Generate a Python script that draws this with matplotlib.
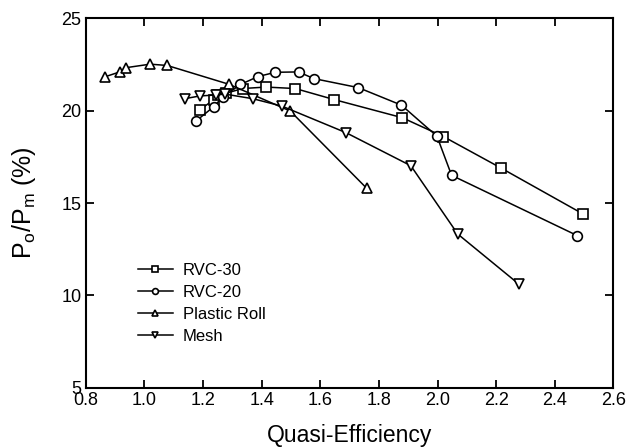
import matplotlib
matplotlib.use("Agg")
import matplotlib.pyplot as plt

plt.rcParams['font.family'] = ['Liberation Sans', 'DejaVu Sans']
plt.rcParams['mathtext.fontset'] = 'custom'
plt.rcParams['mathtext.rm'] = 'Liberation Sans'
plt.rcParams['mathtext.it'] = 'Liberation Sans'

rvc30_x = [1.189, 1.238, 1.250, 1.280, 1.335, 1.415, 1.515, 1.648, 1.880, 2.020, 2.216, 2.497]
rvc30_y = [20.05, 20.60, 20.85, 20.95, 21.20, 21.28, 21.20, 20.60, 19.62, 18.60, 16.90, 14.40]

rvc20_x = [1.178, 1.237, 1.268, 1.328, 1.388, 1.447, 1.526, 1.578, 1.730, 1.877, 1.998, 2.048, 2.476]
rvc20_y = [19.46, 20.22, 20.75, 21.42, 21.85, 22.08, 22.10, 21.74, 21.25, 20.30, 18.62, 16.50, 13.24]

plastic_x = [0.867, 0.918, 0.938, 1.020, 1.078, 1.289, 1.498, 1.759]
plastic_y = [21.84, 22.11, 22.33, 22.52, 22.45, 21.43, 19.98, 15.79]

mesh_x = [1.138, 1.190, 1.245, 1.275, 1.370, 1.469, 1.688, 1.909, 2.069, 2.278]
mesh_y = [20.65, 20.80, 20.85, 20.90, 20.65, 20.25, 18.81, 17.02, 13.32, 10.60]

labels = ['RVC-30', 'RVC-20', 'Plastic Roll', 'Mesh']
markers = ['s', 'o', '^', 'v']

xticks = [0.8, 1.0, 1.2, 1.4, 1.6, 1.8, 2.0, 2.2, 2.4, 2.6]
yticks = [5, 10, 15, 20, 25]

fig = plt.figure(figsize=(6.36, 4.48), dpi=100)
ax = fig.add_axes([0.1346, 0.1346, 0.9646 - 0.1346, 0.959 - 0.1346])

series = [(rvc30_x, rvc30_y), (rvc20_x, rvc20_y), (plastic_x, plastic_y), (mesh_x, mesh_y)]
for (xs, ys), lab, mk in zip(series, labels, markers):
    ax.plot(xs, ys, color='black', lw=1.1, marker=mk, markersize=7.5 if mk == 'v' else 7,
            markerfacecolor='white', markeredgecolor='black', markeredgewidth=1.2,
            label=lab)

ax.set_xlim(0.8, 2.6)
ax.set_ylim(5, 25)
ax.set_xticks(xticks)
ax.set_xticklabels([f'{v:.1f}' for v in xticks])
ax.set_yticks(yticks)
ax.tick_params(direction='in', length=6, width=1.3, labelsize=13, top=True, right=True, pad=3)
for s in ax.spines.values():
    s.set_linewidth(1.5)

ax.set_xlabel('Quasi-Efficiency', fontsize=16.5)
ax.xaxis.set_label_coords(0.5, -0.098)
ax.set_ylabel(r'P$_\mathregular{o}$/P$_\mathregular{m}$ (%)', fontsize=18)
ax.yaxis.set_label_coords(-0.09, 0.5)

leg = ax.legend(loc='upper left', bbox_to_anchor=(0.086, 0.355), frameon=False,
                fontsize=12, handlelength=2.1, handletextpad=0.6,
                labelspacing=0.42, markerscale=0.6, borderaxespad=0)

fig.savefig('out.png', dpi=100)
